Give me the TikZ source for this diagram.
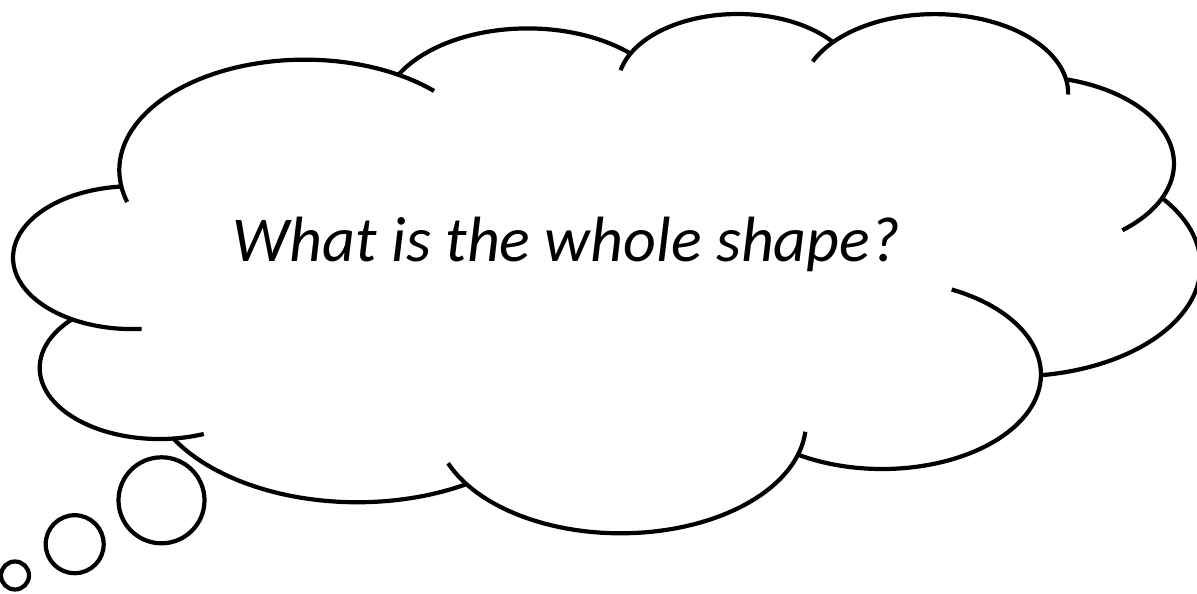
\documentclass[tikz,border=0pt]{standalone}
\usepackage{fontspec}
\setmainfont{Carlito}
\begin{document}
\begin{tikzpicture}[
  outline/.style={draw=black, line width=4.2pt, line join=round},
  stub/.style={draw=black, line width=4.2pt},
  bubble/.style={draw=black, line width=4.2pt},
  qtext/.style={font=\fontsize{64}{72}\selectfont\itshape, inner sep=0pt}
]
\useasboundingbox (0pt,0pt) rectangle (1197pt,-594pt);
\fill[white] (0pt,0pt) rectangle (1197pt,-594pt);
\begin{scope}[shift={(13.9pt,-12.28pt)}, x={(2.7456pt,0pt)}, y={(0pt,-1.2017pt)}]
\draw[outline]
  plot[domain=-187.75:-59.64, samples=50] ({105.91+67.53*cos(\x)},{131.31+91.90*sin(\x)})
  -- plot[domain=-152.02:-45.44, samples=50] ({187.14+53.33*cos(\x)},{86.10+72.67*sin(\x)})
  -- plot[domain=-153.48:-37.32, samples=50] ({263.63+43.65*cos(\x)},{60.88+59.45*sin(\x)})
  -- plot[domain=-139.72:-10.22, samples=50] ({335.40+48.57*cos(\x)},{67.47+65.95*sin(\x)})
  -- plot[domain=-74.77:23.21, samples=50] ({369.19+53.33*cos(\x)},{125.95+72.73*sin(\x)})
  -- plot[domain=-37.53:81.86, samples=50] ({364.48+67.75*cos(\x)},{210.77+92.20*sin(\x)})
  -- plot[domain=0.46:121.98, samples=50] ({316.22+57.85*cos(\x)},{301.41+78.67*sin(\x)})
  -- plot[domain=16.85:146.23, samples=50] ({220.96+67.52*cos(\x)},{341.43+92.15*sin(\x)})
  -- plot[domain=58.98:150.18, samples=50] ({125.05+77.20*cos(\x)},{302.31+105.43*sin(\x)})
  -- plot[domain=83.31:223.12, samples=50] ({52.99+43.60*cos(\x)},{295.95+59.18*sin(\x)})
  -- plot[domain=120.35:264.11, samples=50] ({43.13+43.45*cos(\x)},{204.19+59.45*sin(\x)})
  -- cycle;
% inner arcs
\draw[stub] plot[domain=85.54:120.35, samples=20] ({43.13+43.45*cos(\x)},{204.19+59.45*sin(\x)});
\draw[stub] plot[domain=68.23:83.31, samples=20] ({52.99+43.60*cos(\x)},{295.95+59.18*sin(\x)});
\draw[stub] plot[domain=146.23:158.47, samples=20] ({220.96+67.52*cos(\x)},{341.43+92.15*sin(\x)});
\draw[stub] plot[domain=4.73:16.85, samples=20] ({220.96+67.52*cos(\x)},{341.43+92.15*sin(\x)});
\draw[stub] plot[domain=-64.02:0.46, samples=30] ({316.22+57.85*cos(\x)},{301.41+78.67*sin(\x)});
\draw[stub] plot[domain=23.21:49.64, samples=20] ({369.19+53.33*cos(\x)},{125.95+72.73*sin(\x)});
\draw[stub] plot[domain=-10.22:0.83, samples=20] ({335.40+48.57*cos(\x)},{67.47+65.95*sin(\x)});
\draw[stub] plot[domain=-156.29:-139.72, samples=20] ({335.40+48.57*cos(\x)},{67.47+65.95*sin(\x)});
\draw[stub] plot[domain=-167.72:-153.48, samples=20] ({263.63+43.65*cos(\x)},{60.88+59.45*sin(\x)});
\draw[stub] plot[domain=-59.64:-45.74, samples=20] ({105.91+67.53*cos(\x)},{131.31+91.90*sin(\x)});
\draw[stub] plot[domain=-196.81:-187.75, samples=20] ({105.91+67.53*cos(\x)},{131.31+91.90*sin(\x)});
\end{scope}
% thought bubbles
\draw[bubble] (161.5pt,-500.3pt) circle[radius=43pt];
\draw[bubble] (74.7pt,-544.2pt) circle[radius=29pt];
\draw[bubble] (15pt,-575.5pt) circle[radius=14pt];
% text
\node[qtext, anchor=base] (q) at (566.5pt,-261.7pt) {What is the whole shape?};
\end{tikzpicture}
\end{document}
